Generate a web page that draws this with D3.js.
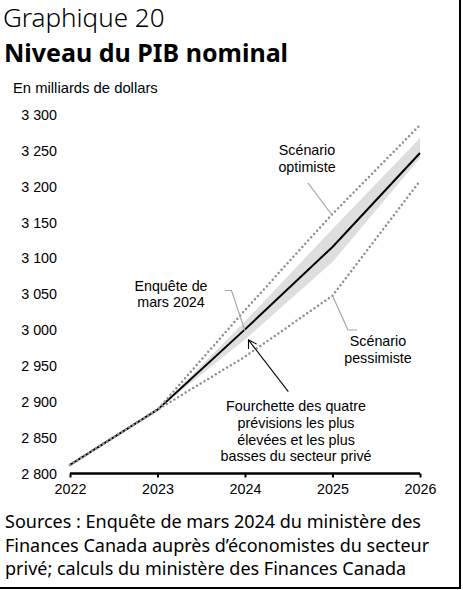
<!DOCTYPE html>
<html><head><meta charset="utf-8">
<script src="https://cdn.jsdelivr.net/npm/d3@7"></script>
<style>
html,body{margin:0;padding:0;background:#fff;}
svg{display:block;}
</style></head>
<body>
<svg id="c" width="463" height="590"></svg>
<script>
const years = [2022, 2023, 2024, 2025, 2026];
const baseline = [2812, 2889, 3001, 3116, 3247];
const optimistic = [2812, 2889, 3028, 3162, 3286];
const pessimistic = [2812, 2889, 2963, 3048, 3208];
const bandYears = [2023, 2024, 2025, 2026];
const bandHigh = [2889, 3012, 3141, 3268];
const bandLow = [2889, 2987, 3095, 3240];
const yTicks = [2800, 2850, 2900, 2950, 3000, 3050, 3100, 3150, 3200, 3250, 3300];
const xTicks = [2022, 2023, 2024, 2025, 2026];

const svg = d3.select("#c");
const x = d3.scaleLinear().domain([2022, 2026]).range([70, 420]);
const y = d3.scaleLinear().domain([2800, 3300]).range([473.5, 115]);
const fmt = v => d3.format(",")(v).replace(/,/g, " ");
const labelFont = "'Liberation Sans', Arial, sans-serif";
const titleFont = "'Noto Sans', 'Open Sans', sans-serif";
const fs = 14.3;

// frame (right & bottom)
svg.append("path").attr("d", "M460,0 L460,588 L0,588").attr("fill", "none").attr("stroke", "#000").attr("stroke-width", 2);

// titles
svg.append("text").attr("x", 3).attr("y", 27).attr("font-family", titleFont).attr("font-size", 26).attr("font-weight", 300).text("Graphique 20");
svg.append("text").attr("x", 4).attr("y", 62).attr("font-family", titleFont).attr("font-size", 25).attr("font-weight", 700).text("Niveau du PIB nominal");
svg.append("text").attr("x", 13).attr("y", 93).attr("font-family", labelFont).attr("font-size", 14.8).text("En milliards de dollars");

// y tick labels
svg.append("g").selectAll("text").data(yTicks).join("text")
  .attr("x", 57).attr("y", d => y(d)).attr("dy", "0.35em").attr("text-anchor", "end")
  .attr("font-family", labelFont).attr("font-size", fs).text(fmt);

// band
const bandData = bandYears.map((yr, i) => ({yr, hi: bandHigh[i], lo: bandLow[i]}));
svg.append("path").datum(bandData)
  .attr("d", d3.area().x(d => x(d.yr)).y0(d => y(d.lo)).y1(d => y(d.hi)))
  .attr("fill", "#dedede");

// baseline
const lineGen = arr => d3.line().x((d, i) => x(years[i])).y(d => y(d))(arr);
svg.append("path").attr("d", lineGen(baseline)).attr("fill", "none").attr("stroke", "#000").attr("stroke-width", 2);

// scenarios dotted
[optimistic, pessimistic].forEach(s => {
  svg.append("path").attr("d", lineGen(s)).attr("fill", "none")
    .attr("stroke", "#8f8f8f").attr("stroke-width", 2.5).attr("stroke-linecap", "round")
    .attr("stroke-dasharray", "0 4.4");
});

// x axis
const xAxis = svg.append("g").attr("transform", "translate(0,473.5)")
  .call(d3.axisBottom(x).tickValues(xTicks).tickFormat(d3.format("d")).tickSize(4).tickPadding(6));
xAxis.select(".domain").attr("stroke-width", 2.5).attr("d", `M${x(2022)},0H${x(2026)}`);
xAxis.selectAll(".tick line").attr("stroke-width", 2);
xAxis.selectAll(".tick text").attr("font-family", labelFont).attr("font-size", fs).attr("fill", "#000");

// annotations
const annot = (lines, cx, y0, lh) => {
  const t = svg.append("text").attr("text-anchor", "middle").attr("font-family", labelFont).attr("font-size", fs);
  lines.forEach((l, i) => t.append("tspan").attr("x", cx).attr("y", y0 + i * lh).text(l));
};
const leader = pts => svg.append("path").attr("d", d3.line()(pts)).attr("fill", "none").attr("stroke", "#a6a6a6").attr("stroke-width", 1.2);

annot(["Scénario", "optimiste"], 307, 155, 16.5);
leader([[308, 183], [332, 215]]);

annot(["Enquête de", "mars 2024"], 171, 291, 16);
leader([[225, 290.5], [231.5, 290.5], [245, 331]]);

annot(["Scénario", "pessimiste"], 378, 346, 16.5);
leader([[333, 297], [348, 330], [357, 330]]);

annot(["Fourchette des quatre", "prévisions les plus", "élevées et les plus", "basses du secteur privé"], 296, 411, 16.8);
// arrow
svg.append("path").attr("d", "M288.3,391.7 L248.5,340").attr("stroke", "#000").attr("stroke-width", 1.1).attr("fill", "none");
svg.append("path").attr("d", "M248.5,349 L248.5,340 L256.5,344").attr("stroke", "#000").attr("stroke-width", 1.1).attr("fill", "none");

// sources
const src = svg.append("text").attr("font-family", titleFont).attr("font-size", 18);
["Sources : Enquête de mars 2024 du ministère des",
 "Finances Canada auprès d’économistes du secteur",
 "privé; calculs du ministère des Finances Canada"].forEach((l, i) =>
  src.append("tspan").attr("x", 5).attr("y", 528 + i * 23.5).text(l));
</script>
</body></html>
